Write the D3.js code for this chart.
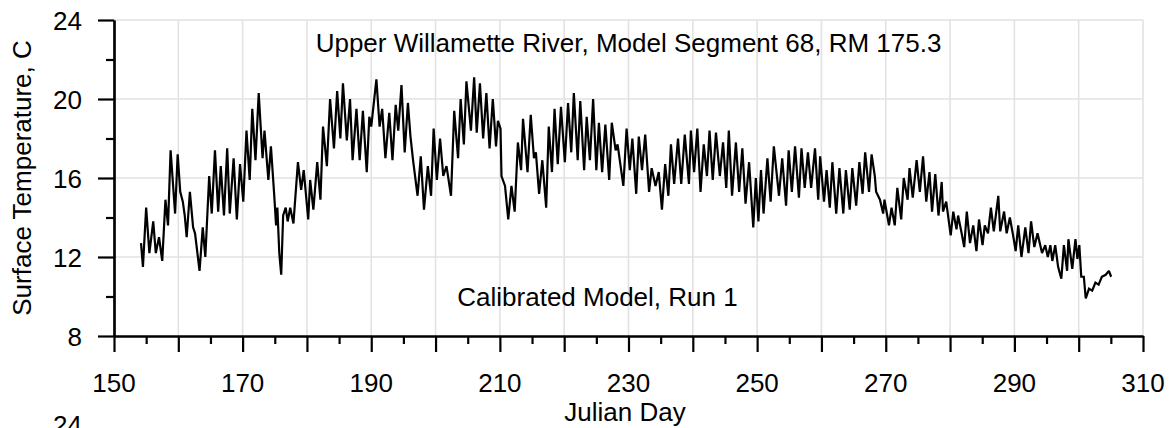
<!DOCTYPE html>
<html>
<head>
<meta charset="utf-8">
<script src="https://cdn.jsdelivr.net/npm/d3@7"></script>
<style>
  html, body { margin: 0; padding: 0; background: #fff; }
  svg { display: block; }
  text { font-family: "Liberation Sans", Arial, sans-serif; fill: #000; }
</style>
</head>
<body>
<svg id="chart" width="1174" height="428"></svg>
<script>
// ---- data (Julian day, surface temperature C) ----
const turningPoints = [
  [154.2,12.7],[154.5,11.5],[155.0,14.5],[155.5,12.2],[156.1,13.8],[156.5,12.2],[157.0,13.0],[157.5,11.8],[158.0,14.9],[158.4,13.6],[158.8,17.4],[159.5,14.2],[159.9,17.2],[160.3,15.3],[160.7,14.8],[161.0,14.1],[161.3,13.0],[161.8,15.3],[162.3,13.5],[162.6,13.2],[163.3,11.3],[163.8,13.5],[164.2,12.0],[164.8,16.1],[165.2,14.2],[165.7,17.4],[166.2,14.3],[166.6,16.6],[167.1,14.1],[167.6,17.5],[168.0,14.2],[168.6,17.0],[169.1,13.9],[169.6,16.7],[170.1,14.8],[170.6,18.4],[171.1,15.9],[171.5,19.5],[172.0,16.9],[172.5,20.3],[173.1,17.0],[173.4,18.4],[174.0,15.9],[174.4,17.6],[174.9,15.2],[175.2,13.6],[175.4,14.5],[175.7,12.2],[176.0,11.1],[176.3,14.1],[176.7,14.5],[177.0,13.8],[177.4,14.5],[177.9,13.7],
  [178.6,16.8],[179.1,15.4],[179.5,16.4],[180.2,13.9],[180.5,15.9],[181.0,14.4],[181.6,16.8],[182.1,14.9],[182.5,18.6],[183.1,16.6],[183.6,20.0],[184.2,17.5],[184.7,20.4],[185.2,18.0],[185.6,20.8],[186.2,17.9],[186.7,20.0],[187.1,16.9],[187.7,19.5],[188.2,16.9],[188.7,19.4],[189.3,16.3],[189.7,19.1],[190.0,18.6],[190.8,21.0],[191.3,18.6],[191.7,19.5],[192.2,17.0],[192.8,19.3],[193.3,16.9],[193.8,19.7],[194.2,18.4],[194.7,20.7],[195.2,17.3],[195.7,19.8],[196.1,18.1],[196.5,16.9],[197.2,15.1],[197.7,17.1],[198.2,14.4],[198.8,16.6],[199.3,15.1],[199.7,18.5],[200.2,15.9],[200.7,18.0],[201.2,16.1],[201.7,16.6],[202.4,15.1],
  [202.9,19.4],[203.5,17.0],[203.9,20.0],[204.4,17.7],[204.8,20.9],[205.5,18.4],[206.0,21.1],[206.4,18.3],[206.9,20.8],[207.4,18.0],[207.9,20.3],[208.4,17.5],[208.9,20.0],[209.4,17.6],[209.7,18.9],[210.1,18.5],[210.25,16.1],[210.8,15.6],[211.3,13.9],[211.8,15.6],[212.3,14.3],[212.8,17.8],[213.3,16.4],[213.6,19.0],[214.3,16.3],[214.8,19.2],[215.3,17.0],[215.6,17.3],[216.1,15.2],[216.6,16.9],[217.2,14.5],[217.6,18.6],[218.1,16.3],[218.5,19.5],[219.0,16.7],[219.5,19.6],[220.1,16.8],[220.6,19.8],[221.1,17.3],[221.5,20.3],[222.1,16.9],[222.5,19.9],[223.1,16.4],[223.5,19.1],[224.0,16.9],[224.5,20.0],[225.0,16.4],[225.4,18.8],[225.9,16.3],[226.4,18.7],[227.0,15.9],[227.4,18.8],
  [228.0,17.4],[228.3,17.7],[229.2,15.6],[229.7,18.5],[230.2,16.4],[230.6,18.0],[231.2,15.2],[231.6,18.1],[232.1,16.4],[232.6,18.2],[233.2,15.3],[233.6,16.5],[234.2,15.6],[234.7,16.3],[235.2,14.4],[235.7,16.7],[236.2,15.1],[236.6,17.7],[237.1,15.7],[237.7,18.0],[238.2,15.7],[238.75,18.2],[239.4,15.7],[239.7,18.4],[240.2,16.3],[240.7,18.5],[241.2,15.3],[241.7,17.7],[242.2,16.1],[242.6,18.4],[243.1,15.9],[243.6,18.3],[244.2,16.1],[244.7,17.8],[245.2,15.5],[245.6,18.4],[246.1,15.1],[246.7,17.8],[247.2,15.3],[247.7,17.5],[248.2,14.7],[248.75,16.8],[249.4,13.5],[249.8,16.0],[250.2,13.8],[250.6,16.4],[251.0,14.2],[251.6,17.0],[252.1,14.8],[252.6,17.6],
  [253.4,15.1],[253.9,17.0],[254.5,14.6],[254.9,17.4],[255.4,15.3],[255.9,17.6],[256.5,15.0],[256.9,17.5],[257.4,15.5],[257.9,17.3],[258.4,15.5],[259.0,17.5],[259.5,14.9],[259.8,17.1],[260.4,14.8],[260.8,16.4],[261.3,14.5],[261.7,16.8],[262.3,14.2],[262.8,16.5],[263.4,14.2],[263.8,16.4],[264.4,14.4],[264.8,16.5],[265.4,14.6],[265.9,16.8],[266.4,15.2],[266.8,17.3],[267.4,15.3],[267.8,17.2],[268.3,16.1],[268.5,15.3],[269.1,14.9],[269.6,14.2],[269.8,14.9],[270.5,13.6],[270.9,14.5],[271.4,13.6],[271.8,15.5],[272.4,13.9],[272.8,16.0],[273.4,14.9],[273.7,16.5],[274.2,15.0],[274.8,16.9],[275.3,15.3],[275.8,17.1],[276.3,14.8],[276.8,16.3],[277.2,14.3],[277.7,16.2],[278.2,14.1],
  [278.7,15.8],[278.9,14.3],[279.4,14.8],[280.1,13.1],[280.5,14.3],[281.0,13.4],[281.25,14.1],[281.8,13.2],[282.2,12.5],[282.6,14.3],[283.1,12.7],[283.6,13.6],[284.1,12.3],[284.5,13.9],[285.05,12.6],[285.4,13.6],[285.9,13.2],[286.35,14.5],[286.8,13.3],[287.5,15.1],[287.8,13.3],[288.4,14.3],[288.8,13.2],[289.3,14.0],[289.8,13.1],[290.2,12.3],[290.6,13.6],[291.1,12.0],[291.7,13.5],[292.2,12.2],[292.6,13.8],[293.1,12.5],[293.6,13.2],[294.3,12.2],[294.8,12.6],[295.2,12.0],[295.6,12.6],[295.9,11.8],[296.35,12.6],[296.8,11.5],[297.3,10.9],[297.7,12.6],[298.2,11.3],[298.4,12.9],[299.0,11.4],[299.5,12.9],[299.8,11.9],[300.1,12.6],[300.4,11.0],[300.8,11.0],[301.1,9.9],[301.6,10.4],[302.1,10.3],[302.6,10.7],[303.1,10.6],[303.6,11.0],[304.2,11.1],[304.7,11.3],[305.05,11.0]
];
const xDomain = [150, 310];
const yDomain = [8, 24];
const xMajorTicks = [150,160,170,180,190,200,210,220,230,240,250,260,270,280,290,300,310];
const xMinorTicks = [155,165,175,185,195,205,215,225,235,245,255,265,275,285,295,305];
const xTickLabels = [150,170,190,210,230,250,270,290,310];
const yMajorTicks = [8,12,16,20,24];
const yMinorTicks = [10,14,18,22];
const titleText = "Upper Willamette River, Model Segment 68, RM 175.3";
const noteText = "Calibrated Model, Run 1";
const xAxisTitle = "Julian Day";
const yAxisTitle = "Surface Temperature, C";
const nextChartLabel = "24";

// ---- drawing ----
(function draw() {
  const svg = d3.select("#chart");
  const pL = 114, pR = 1143, pT = 20, pB = 336;
  const x = d3.scaleLinear().domain(xDomain).range([pL, pR]);
  const y = d3.scaleLinear().domain(yDomain).range([pB, pT]);
  const FS = 26;

  // gridlines
  svg.append("g").selectAll("line").data(xMajorTicks.filter(d => d !== xDomain[0])).join("line")
    .attr("x1", d => x(d)).attr("x2", d => x(d)).attr("y1", pT).attr("y2", pB)
    .attr("stroke", "#e2e2e2").attr("stroke-width", 1.6);
  svg.append("g").selectAll("line").data(yMajorTicks.filter(d => d !== yDomain[0])).join("line")
    .attr("x1", pL).attr("x2", pR).attr("y1", d => y(d)).attr("y2", d => y(d))
    .attr("stroke", "#e2e2e2").attr("stroke-width", 1.6);

  // axes (ticks via d3 axes)
  const xMajor = d3.axisBottom(x).tickValues(xMajorTicks).tickSize(16).tickFormat("").tickSizeOuter(0);
  const xMinor = d3.axisBottom(x).tickValues(xMinorTicks).tickSize(8).tickFormat("").tickSizeOuter(0);
  const yMajor = d3.axisLeft(y).tickValues(yMajorTicks).tickSize(16).tickFormat("").tickSizeOuter(0);
  const yMinor = d3.axisLeft(y).tickValues(yMinorTicks).tickSize(8).tickFormat("").tickSizeOuter(0);
  [ [xMajor, `translate(0,${pB})`], [xMinor, `translate(0,${pB})`],
    [yMajor, `translate(${pL},0)`], [yMinor, `translate(${pL},0)`] ].forEach(([ax, tr]) => {
    const g = svg.append("g").attr("transform", tr).call(ax);
    g.selectAll("path").attr("stroke", "#000").attr("stroke-width", 2.2);
    g.selectAll("line").attr("stroke", "#000").attr("stroke-width", 2.2);
  });

  // tick labels
  svg.append("g").selectAll("text").data(xTickLabels).join("text")
    .attr("x", d => x(d)).attr("y", 392).attr("text-anchor", "middle")
    .attr("font-size", FS).text(d => d);
  svg.append("g").selectAll("text").data(yMajorTicks).join("text")
    .attr("x", 82).attr("y", d => y(d) + 10).attr("text-anchor", "end")
    .attr("font-size", FS).text(d => d);

  // series line
  const line = d3.line().x(d => x(d[0])).y(d => y(d[1]));
  svg.append("path").datum(turningPoints)
    .attr("d", line).attr("fill", "none").attr("stroke", "#000")
    .attr("stroke-width", 2.2).attr("stroke-linejoin", "miter").attr("stroke-miterlimit", 2);

  // texts
  svg.append("text").attr("x", (pL + pR) / 2).attr("y", 52).attr("text-anchor", "middle")
    .attr("font-size", FS).text(titleText);
  svg.append("text").attr("x", 597.5).attr("y", 306).attr("text-anchor", "middle")
    .attr("font-size", FS).text(noteText);
  svg.append("text").attr("x", 625).attr("y", 421).attr("text-anchor", "middle")
    .attr("font-size", FS).text(xAxisTitle);
  svg.append("text").attr("transform", `translate(31,${(pT + pB) / 2}) rotate(-90)`)
    .attr("text-anchor", "middle").attr("font-size", FS).text(yAxisTitle);
  svg.append("text").attr("x", 82).attr("y", 434).attr("text-anchor", "end")
    .attr("font-size", FS).text(nextChartLabel);
})();
</script>
</body>
</html>
